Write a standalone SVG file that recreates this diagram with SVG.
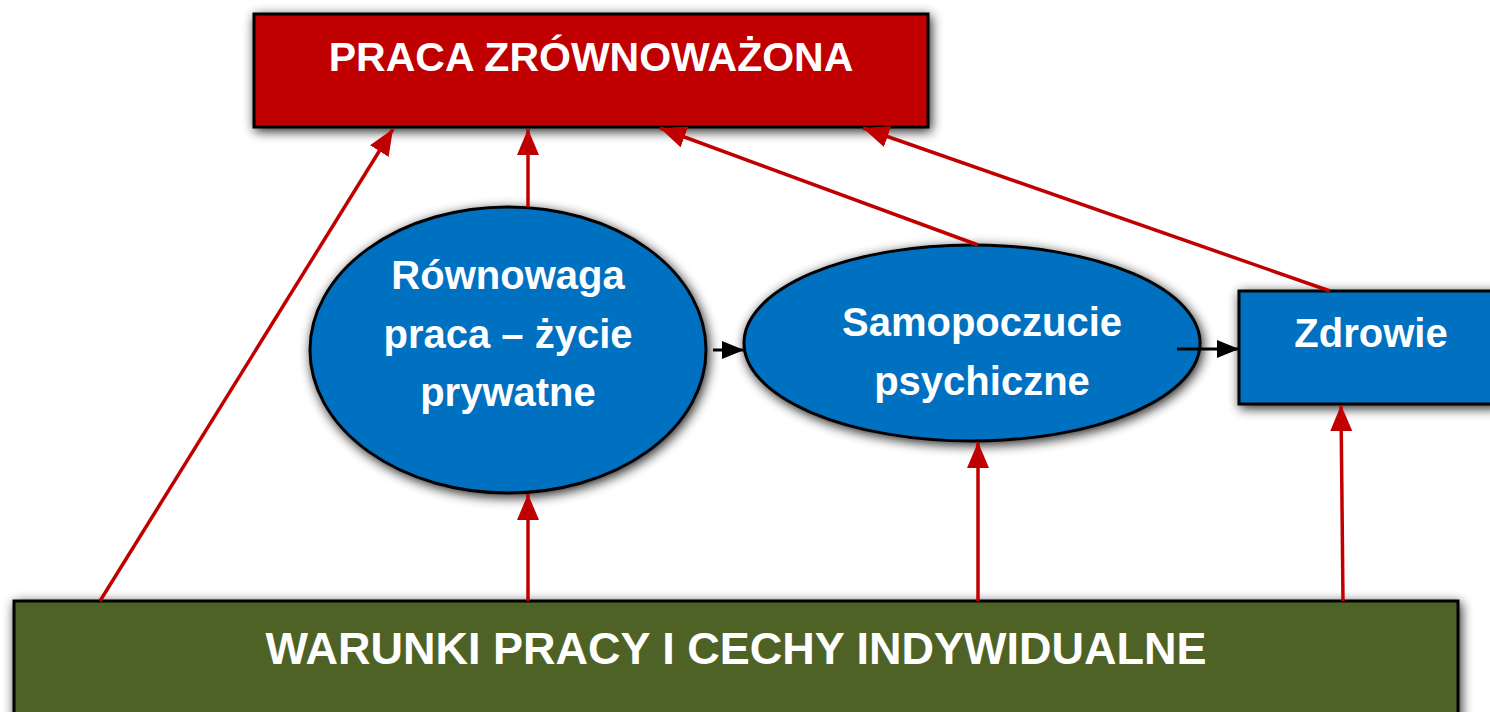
<svg xmlns="http://www.w3.org/2000/svg" width="1490" height="712" viewBox="0 0 1490 712">
<style>
.t{font-family:"Liberation Sans",Arial,sans-serif;font-weight:bold;fill:#fff;text-anchor:middle}
.node{stroke:#000;stroke-width:3}
.red{stroke:#C00000;stroke-width:3.5;fill:none}
.blk{stroke:#000;stroke-width:3;fill:none}
</style>
<defs>
<filter id="sh" x="-20%" y="-30%" width="140%" height="160%">
<feGaussianBlur in="SourceAlpha" stdDeviation="6"/>
<feOffset dx="2" dy="3"/>
<feComponentTransfer><feFuncA type="linear" slope="0.85"/></feComponentTransfer>
<feMerge><feMergeNode/><feMergeNode in="SourceGraphic"/></feMerge>
</filter>
<marker id="ar" markerUnits="userSpaceOnUse" markerWidth="26" markerHeight="22" viewBox="0 0 26 22" refX="26" refY="11" orient="auto">
<path d="M0,0 L26,11 L0,22 Z" fill="#C00000"/>
</marker>
<marker id="ab" markerUnits="userSpaceOnUse" markerWidth="22" markerHeight="18" viewBox="0 0 22 18" refX="22" refY="9" orient="auto">
<path d="M0,0 L22,9 L0,18 Z" fill="#000"/>
</marker>
</defs>
<rect width="1490" height="712" fill="#fff"/>
<g id="praca">
<rect class="node" x="254" y="14" width="674" height="113" fill="#C00000" filter="url(#sh)"/>
<text class="t" x="591" y="71" font-size="41">PRACA ZRÓWNOWAŻONA</text>
</g>
<g id="warunki">
<rect class="node" x="14" y="601" width="1444" height="130" fill="#4F6228" filter="url(#sh)"/>
<text class="t" x="736" y="664" font-size="45">WARUNKI PRACY I CECHY INDYWIDUALNE</text>
</g>
<g id="rownowaga">
<ellipse class="node" cx="508" cy="350" rx="198" ry="143" fill="#0070C0" filter="url(#sh)"/>
<text class="t" x="508" y="289" font-size="40">Równowaga</text>
<text class="t" x="508" y="348" font-size="40">praca – życie</text>
<text class="t" x="508" y="406" font-size="40">prywatne</text>
</g>
<g id="samopoczucie">
<ellipse class="node" cx="972" cy="343" rx="228" ry="98" fill="#0070C0" filter="url(#sh)"/>
<text class="t" x="982" y="336" font-size="40">Samopoczucie</text>
<text class="t" x="982" y="395" font-size="40">psychiczne</text>
</g>
<g id="zdrowie">
<rect class="node" x="1239" y="291" width="260" height="113" fill="#0070C0" filter="url(#sh)"/>
<text class="t" x="1371" y="347" font-size="40">Zdrowie</text>
</g>
<g id="connectors">
<line class="red" x1="100" y1="601" x2="393" y2="129" marker-end="url(#ar)"/>
<line class="red" x1="528" y1="207" x2="528" y2="129" marker-end="url(#ar)"/>
<line class="red" x1="978" y1="245" x2="660" y2="128" marker-end="url(#ar)"/>
<line class="red" x1="1330" y1="291" x2="863" y2="128" marker-end="url(#ar)"/>
<line class="red" x1="528" y1="601" x2="528" y2="494" marker-end="url(#ar)"/>
<line class="red" x1="978" y1="601" x2="978" y2="442" marker-end="url(#ar)"/>
<line class="red" x1="1343" y1="601" x2="1341" y2="405" marker-end="url(#ar)"/>
<line class="blk" x1="713" y1="350" x2="744" y2="350" marker-end="url(#ab)"/>
<line class="blk" x1="1177" y1="349" x2="1239" y2="349" marker-end="url(#ab)"/>
</g>
</svg>
